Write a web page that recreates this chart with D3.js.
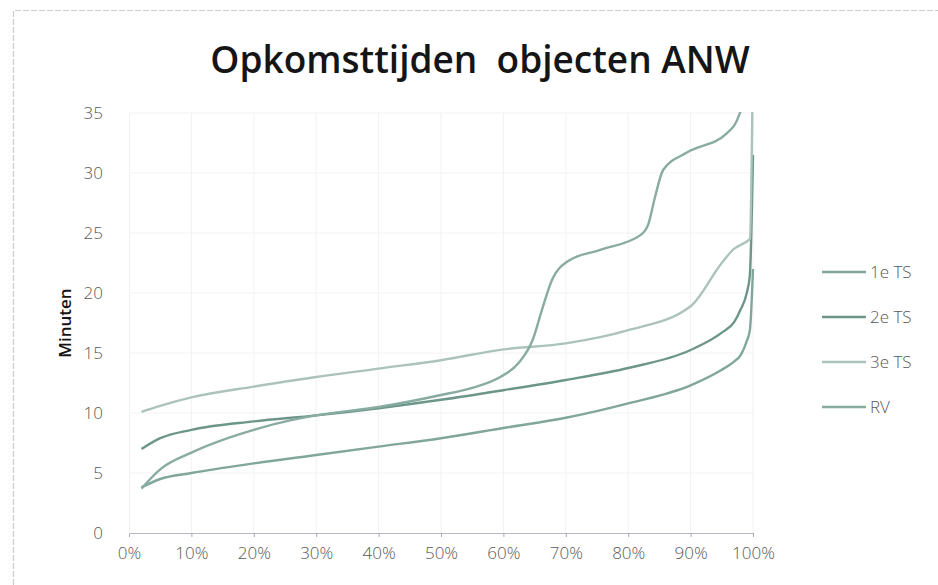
<!DOCTYPE html>
<html>
<head>
<meta charset="utf-8">
<script src="https://cdn.jsdelivr.net/npm/d3@7"></script>
<style>
  body { margin: 0; background: #fff; }
  svg { display: block; }
</style>
</head>
<body>
<script>
// percentile (%) -> response time in minutes
const pct     = [2, 5, 10, 20, 30, 40, 50, 60, 70, 80, 90, 95, 97, 98, 99, 99.5, 100]
const ts1     = [3.8, 4.5, 5.0, 5.8, 6.5, 7.2, 7.9, 8.75, 9.6, 10.8, 12.3, 13.6, 14.3, 14.8, 16.0, 16.9, 22]
const ts2     = [7.0, 7.9, 8.6, 9.3, 9.8, 10.4, 11.1, 11.9, 12.75, 13.75, 15.25, 16.7, 17.6, 18.6, 20.0, 21.5, 31.5]
const ts3     = [10.1, 10.6, 11.3, 12.2, 13.0, 13.7, 14.4, 15.3, 15.8, 16.9, 18.9, 22.5, 23.7, 24.0, 24.3, 24.5, 40]
const rvPct   = [2, 5, 10, 20, 26, 30, 40, 50, 55, 59.5, 62.5, 64.7, 66.3, 67.8, 70.2, 75.5, 81.9, 83.2, 84.3, 85.6, 89.4, 95.8, 97.9, 100]
const rv      = [3.7, 5.3, 6.7, 8.6, 9.4, 9.8, 10.5, 11.5, 12.1, 13.0, 14.2, 16.1, 18.8, 21.1, 22.6, 23.6, 24.8, 25.7, 28.0, 30.25, 31.7, 33.3, 35.0, 40]
const seriesNames = ['1e TS', '2e TS', '3e TS', 'RV']
const colors = ['#81a69c', '#6d968b', '#abc3bc', '#88aba2']
const xTicks = [0, 10, 20, 30, 40, 50, 60, 70, 80, 90, 100]
const yTicks = [0, 5, 10, 15, 20, 25, 30, 35]

const W = 938, H = 585
const svg = d3.select('body').append('svg').attr('width', W).attr('height', H)

// chart frame (scanned excel border)
svg.append('path')
  .attr('d', 'M13.5,' + H + ' L13.5,10.5 L' + W + ',10.5')
  .attr('fill', 'none').attr('stroke', '#c9c9cf').attr('stroke-width', 1.2)
  .attr('stroke-dasharray', '6,2')

svg.append('text')
  .attr('x', 480).attr('y', 73)
  .attr('text-anchor', 'middle')
  .style('font-family', '"Open Sans", Lato, sans-serif')
  .style('font-weight', '600').style('font-size', '37px')
  .attr('fill', '#151515')
  .text('Opkomsttijden\u00a0 objecten ANW')

const x = d3.scaleLinear().domain([0, 100]).range([129, 753])
const y = d3.scaleLinear().domain([0, 35]).range([533, 113])

// faint gridlines
svg.append('g').selectAll('line').data(xTicks.slice(1)).enter().append('line')
  .attr('x1', d => x(d)).attr('x2', d => x(d)).attr('y1', y(35)).attr('y2', y(0))
  .attr('stroke', '#f2f2f4').attr('stroke-width', 1)
svg.append('g').selectAll('line').data(yTicks.slice(1)).enter().append('line')
  .attr('x1', x(0)).attr('x2', x(100)).attr('y1', d => y(d)).attr('y2', d => y(d))
  .attr('stroke', '#f3f3f5').attr('stroke-width', 1)

const xAxis = svg.append('g').attr('transform', 'translate(0,' + y(0) + ')')
  .call(d3.axisBottom(x).tickValues(xTicks).tickSize(4).tickPadding(10).tickFormat(d => d + '%'))
xAxis.select('.domain').attr('stroke', '#b8b8c4')
xAxis.selectAll('.tick line').attr('stroke', '#a8a8b4')
xAxis.selectAll('text').attr('fill', '#595959')
  .style('font-family', '"Open Sans", sans-serif').style('font-size', '17px').style('font-weight', '300')

const yAxis = svg.append('g').attr('transform', 'translate(' + x(0) + ',0)')
  .call(d3.axisLeft(y).tickValues(yTicks).tickSize(0).tickPadding(26))
yAxis.select('.domain').attr('stroke', '#f0f0f2')
yAxis.selectAll('text').attr('fill', '#595959')
  .style('font-family', '"Open Sans", sans-serif').style('font-size', '17px').style('font-weight', '300')

svg.append('text')
  .attr('transform', 'translate(71,' + y(17.5) + ') rotate(-90)')
  .attr('text-anchor', 'middle')
  .style('font-family', '"Open Sans", Lato, sans-serif')
  .style('font-weight', '600').style('font-size', '17px').attr('fill', '#151515')
  .text('Minuten')

svg.append('clipPath').attr('id', 'plot').append('rect')
  .attr('x', x(0)).attr('y', y(35) - 1).attr('width', x(100) - x(0) + 4).attr('height', y(0) - y(35) + 1)

const line = d3.line().x(d => x(d[0])).y(d => y(d[1])).curve(d3.curveMonotoneX)
const series = [
  pct.map((p, i) => [p, ts1[i]]),
  pct.map((p, i) => [p, ts2[i]]),
  pct.map((p, i) => [p, ts3[i]]),
  rvPct.map((p, i) => [p, rv[i]])
]
svg.append('g').attr('clip-path', 'url(#plot)')
  .selectAll('path').data(series).enter().append('path')
  .attr('d', line)
  .attr('fill', 'none')
  .attr('stroke', (d, i) => colors[i])
  .attr('stroke-width', 2.4)
  .attr('stroke-linejoin', 'round')

// legend
const legend = svg.append('g').selectAll('g').data(seriesNames).enter().append('g')
  .attr('transform', (d, i) => 'translate(822,' + (272 + i * 45) + ')')
legend.append('line').attr('x1', 0).attr('x2', 44).attr('y1', 0).attr('y2', 0)
  .attr('stroke', (d, i) => colors[i]).attr('stroke-width', 2.4)
legend.append('text').attr('x', 48).attr('y', 6)
  .style('font-family', '"Open Sans", sans-serif').style('font-size', '17px').style('font-weight', '300')
  .attr('fill', '#595959').text(d => d)
</script>
</body>
</html>
